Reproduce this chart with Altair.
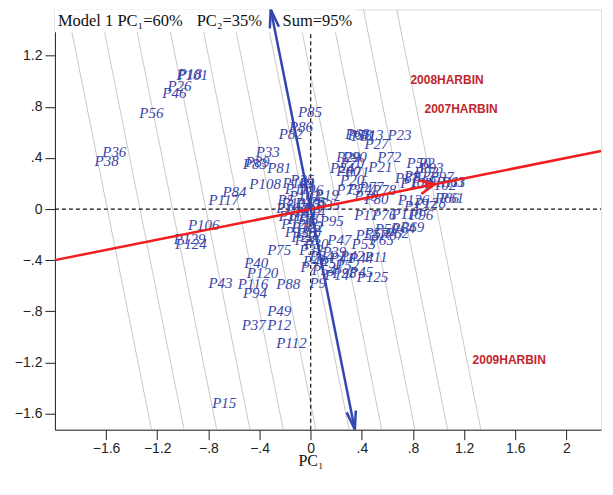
import altair as alt
import pandas as pd
import numpy as np

# ---------------- data ----------------
X_DOMAIN = [-2.0, 2.27]
Y_DOMAIN = [-1.727, 1.5625]

geno_names = [
    "P101", "P18", "P26", "P46", "P56", "P85", "P86", "P82", "P36", "P38",
    "P33", "P83", "P89", "P81", "P108", "P84", "P117", "P106", "P129", "P124",
    "P75", "P40", "P120", "P43", "P116", "P88", "P94", "P49", "P37", "P12",
    "P112", "P15", "P9", "P125", "P45", "P98", "P14", "P7", "P95", "P47",
    "P53", "P11", "P69", "P23", "P27", "P72", "P21", "P20", "P50", "P2",
    "P63", "P61", "P66", "P58", "P31", "P13", "P29", "P90", "P24", "P60",
    "P22", "P17", "P76", "P110", "P96",
    "P109", "P119", "P103", "P1", "P5", "P104", "P105", "P8", "P35", "P107",
    "P113", "P114", "P3", "P115", "P118", "P4", "P121", "P122", "P6", "P123",
    "P10", "P16", "P19", "P25",
    "P28", "P30", "P32", "P34", "P39", "P41", "P42", "P44", "P48", "P51",
    "P52", "P54", "P55", "P57", "P59", "P62", "P64", "P65", "P67",
    "P68", "P70", "P71", "P73", "P74", "P77", "P78", "P79", "P80",
    "P87", "P91", "P92", "P93", "P97", "P99", "P100", "P102", "P111",
    "P126", "P127", "P128",
]
geno_x = [
    -1.05, -1.04, -1.12, -1.16, -1.34, -0.10, -0.17, -0.25, -1.63, -1.69,
    -0.43, -0.53, -0.51, -0.34, -0.48, -0.69, -0.80, -0.96, -1.07, -1.06,
    -0.34, -0.52, -0.50, -0.80, -0.57, -0.27, -0.53, -0.34, -0.54, -0.34,
    -0.27, -0.77, -0.01, 0.36, 0.30, 0.17, 0.11, -0.08, 0.07, 0.13,
    0.32, 0.42, 0.70, 0.60, 0.42, 0.52, 0.45, 0.23, 0.75, 0.84,
    1.02, 1.01, 0.97, 0.29, 0.32, 0.38, 0.20, 0.25, 0.15, 0.20,
    -0.15, 0.34, 0.48, 0.63, 0.77,
    -0.22, -0.20, -0.17, -0.09, -0.26, -0.23, -0.12, -0.02, 0.04, -0.27,
    -0.20, -0.125, -0.05, -0.25, -0.18, -0.09, -0.23, -0.15, -0.05, -0.20,
    -0.11, -0.09, 0.03, -0.16,
    -0.125, -0.05, -0.09, -0.01, 0.09, 0.15, 0.23, 0.30, -0.06, 0.07,
    0.19, 0.01, 0.35, 0.42, 0.50, 0.58, 0.63, 0.46, 0.54,
    0.27, 0.23, 0.27, 0.20, 0.29, 0.38, 0.48, 0.34, 0.42,
    0.66, 0.73, 0.81, 0.85, 0.93, 0.79, 0.70, 0.89, 0.98,
    0.68, 0.73, 0.81,
]
geno_y = [
    1.05, 1.06, 0.96, 0.91, 0.75, 0.76, 0.64, 0.59, 0.45, 0.375,
    0.45, 0.35, 0.37, 0.32, 0.195, 0.13, 0.07, -0.125, -0.235, -0.27,
    -0.32, -0.42, -0.50, -0.58, -0.59, -0.59, -0.66, -0.80, -0.91, -0.91,
    -1.05, -1.52, -0.58, -0.53, -0.49, -0.50, -0.52, -0.45, -0.09, -0.24,
    -0.27, -0.375, -0.14, 0.58, 0.51, 0.41, 0.33, 0.23, 0.36, 0.36,
    0.21, 0.09, 0.09, 0.58, 0.57, 0.58, 0.41, 0.41, 0.32, 0.30,
    -0.22, -0.05, -0.05, -0.04, -0.05,
    0.20, 0.16, 0.10, 0.20, 0.07, 0.05, 0.05, 0.055, 0.03, 0.01,
    -0.01, -0.02, 0.01, -0.055, -0.08, -0.06, -0.12, -0.14, -0.13, -0.18,
    -0.19, 0.15, 0.11, 0.23,
    -0.24, -0.27, -0.32, -0.37, -0.34, -0.38, -0.37, -0.38, -0.41, -0.42,
    -0.44, -0.48, -0.20, -0.19, -0.16, -0.19, -0.15, -0.24, -0.20,
    0.59, 0.36, 0.29, 0.15, 0.16, 0.17, 0.15, 0.10, 0.08,
    0.24, 0.26, 0.29, 0.32, 0.25, 0.21, 0.20, 0.19, 0.21,
    0.07, 0.02, 0.05,
]

env_names = ["2008HARBIN", "2007HARBIN", "2009HARBIN"]
env_x = [0.78, 0.89, 1.266]
env_y = [1.008, 0.78, -1.185]

aea_slope = 0.2          # average-environment axis direction (1, 0.2)
aea_tip_x = 0.97         # arrow tip on the red axis
gray_c = [-1.59, -1.335, -1.08, -0.82, -0.56, -0.305, -0.045, 0.21, 0.47, 0.725, 0.985]

x_ticks = [-1.6, -1.2, -0.8, -0.4, 0, 0.4, 0.8, 1.2, 1.6, 2.0]
y_ticks = [-1.6, -1.2, -0.8, -0.4, 0, 0.4, 0.8, 1.2]

# ---------------- derived tables ----------------
geno = pd.DataFrame({"x": geno_x, "y": geno_y, "label": geno_names})
env = pd.DataFrame({"x": env_x, "y": env_y, "label": env_names})

y0, y1 = Y_DOMAIN
x0, x1 = X_DOMAIN
gray = pd.DataFrame({
    "x": [c - aea_slope * y1 for c in gray_c],
    "y": [y1] * len(gray_c),
    "x2": [c - aea_slope * y0 for c in gray_c],
    "y2": [y0] * len(gray_c),
})
dashed = pd.DataFrame({"x": [x0, 0.0], "y": [0.0, y0], "x2": [x1, 0.0], "y2": [0.0, y1]})
red = pd.DataFrame({"x": [x0], "y": [aea_slope * x0], "x2": [x1], "y2": [aea_slope * x1]})
blue = pd.DataFrame({"x": [-aea_slope * y1], "y": [y1], "x2": [-aea_slope * y0], "y2": [y0]})


def arrow_head(tx, ty, dx, dy, length, ang_deg):
    n = np.hypot(dx, dy)
    ux, uy = dx / n, dy / n
    rows = []
    for s in (-1, 1):
        a = np.deg2rad(ang_deg) * s
        bx = -(ux * np.cos(a) - uy * np.sin(a))
        by = -(ux * np.sin(a) + uy * np.cos(a))
        rows.append({"x": tx, "y": ty, "x2": tx + bx * length, "y2": ty + by * length})
    return rows


red_head = pd.DataFrame(arrow_head(aea_tip_x, aea_slope * aea_tip_x, 1, aea_slope, 0.13, 25))
blue_head = pd.DataFrame(
    arrow_head(-aea_slope * y1, y1, -aea_slope, 1, 0.15, 14)
    + arrow_head(-aea_slope * y0, y0, aea_slope, -1, 0.15, 14)
)

# ---------------- encodings ----------------
lab_expr = ("datum.value == 0 ? '0' : datum.value == 2 ? '2' : "
            "replace(format(datum.value, '.1f'), '0.', '.')")
xs = alt.Scale(domain=X_DOMAIN, nice=False, zero=False)
ys = alt.Scale(domain=Y_DOMAIN, nice=False, zero=False)
x_axis = alt.Axis(values=x_ticks, labelExpr=lab_expr, tickSize=10, grid=False,
                  domainColor="#222", tickColor="#222", labelColor="#222",
                  labelFont="Liberation Sans", labelFontSize=14, labelPadding=2,
                  title="PC₁", titleFont="Liberation Serif", titleFontSize=16,
                  titleFontWeight="normal", titleColor="#111",
                  titleX=256, titleY=23, titleAlign="center")
y_axis = alt.Axis(values=y_ticks, labelExpr=lab_expr, tickSize=10, grid=False,
                  domainColor="#222", tickColor="#222", labelColor="#222",
                  labelFont="Liberation Sans", labelFontSize=14, labelPadding=3,
                  title="")
X = alt.X("x:Q", scale=xs, axis=x_axis)
Y = alt.Y("y:Q", scale=ys, axis=y_axis)


def seg(df, color, width, dash=None):
    kw = dict(color=color, strokeWidth=width, clip=True)
    if dash:
        kw["strokeDash"] = dash
    return alt.Chart(df).mark_rule(**kw).encode(x=X, y=Y, x2="x2:Q", y2="y2:Q")


gray_layer = seg(gray, "#c8c8c8", 1)
dash_layer = seg(dashed, "#111", 1.2, [4, 3])

box = alt.Chart(pd.DataFrame({"a": [0]})).mark_rect(color="white").encode(
    x=alt.value(0), x2=alt.value(302), y=alt.value(0), y2=alt.value(23))


def ttext(txt, px):
    return alt.Chart(pd.DataFrame({"a": [0]})).mark_text(
        text=txt, align="left", baseline="alphabetic", font="Liberation Serif",
        fontSize=16.5, color="#111").encode(x=alt.value(px), y=alt.value(17))


title_layers = [ttext("Model 1 PC₁=60%", 3), ttext("PC₂=35%", 142), ttext("Sum=95%", 228)]

geno_layer = alt.Chart(geno).mark_text(
    align="left", baseline="middle", font="Liberation Serif", fontStyle="italic",
    fontSize=15, color="#3a45a8", clip=True).encode(x=X, y=Y, text="label:N")
env_layer = alt.Chart(env).mark_text(
    align="left", baseline="middle", font="Liberation Sans", fontWeight="bold",
    fontSize=12, color="#c0262c").encode(x=X, y=Y, text="label:N")

red_layer = seg(red, "#f21d1d", 2.5)
red_head_layer = seg(red_head, "#f21d1d", 2.5)
blue_layer = seg(blue, "#3346b0", 2.5)
blue_head_layer = seg(blue_head, "#3346b0", 2.5)

chart = alt.layer(
    gray_layer, dash_layer, box, *title_layers, geno_layer, env_layer,
    red_layer, red_head_layer, blue_layer, blue_head_layer
).properties(
    width=547, height=421,
    padding={"left": 47, "top": 1, "right": 4, "bottom": 50},
    autosize=alt.AutoSizeParams(type="none"),
).configure_view(stroke="#333", strokeWidth=1, fill="#fdfdfd").configure(background="white")

chart.save("out.html", embed_options={"renderer": "svg", "actions": False})
